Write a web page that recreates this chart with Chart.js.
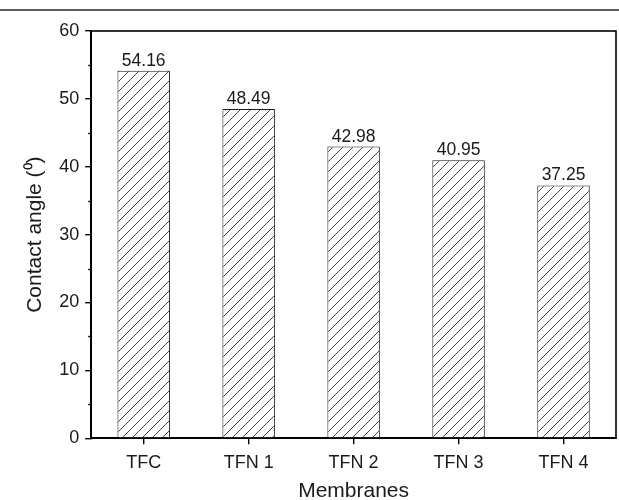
<!DOCTYPE html>
<html>
<head>
<meta charset="utf-8">
<script src="https://cdn.jsdelivr.net/npm/chart.js@4/dist/chart.umd.min.js"></script>
<style>
  html, body { margin: 0; padding: 0; background: #fff; overflow: hidden; }
  #wrap { width: 619px; height: 500px; overflow: hidden; }
</style>
</head>
<body>
<div id="wrap"><canvas id="c" width="619" height="504"></canvas></div>
<script>
const categories = ["TFC", "TFN 1", "TFN 2", "TFN 3", "TFN 4"];
const contactAngle = [54.16, 48.49, 42.98, 40.95, 37.25];
const valueLabels = ["54.16", "48.49", "42.98", "40.95", "37.25"];
const yTicks = [0, 10, 20, 30, 40, 50, 60];

const FONT = "'Liberation Sans', Arial, sans-serif";

function hatch() {
  const s = 10;
  const p = document.createElement('canvas');
  p.width = s; p.height = s;
  const g = p.getContext('2d');
  g.fillStyle = '#fff';
  g.fillRect(0, 0, s, s);
  g.strokeStyle = '#444';
  g.lineWidth = 1;
  g.beginPath();
  g.moveTo(-1, s + 1); g.lineTo(s + 1, -1);
  g.moveTo(-s / 2 - 1, s / 2 + 1); g.lineTo(s / 2 + 1, -s / 2 - 1);
  g.moveTo(s / 2 - 1, s * 1.5 + 1); g.lineTo(s * 1.5 + 1, s / 2 - 1);
  g.stroke();
  return document.getElementById('c').getContext('2d').createPattern(p, 'repeat');
}

const decor = {
  id: 'decor',
  beforeDraw(chart) {
    const ctx = chart.ctx;
    ctx.save();
    ctx.strokeStyle = '#5a5a5a';
    ctx.lineWidth = 2;
    ctx.beginPath();
    ctx.moveTo(0, 10); ctx.lineTo(chart.width, 10);
    ctx.stroke();
    ctx.restore();
  },
  afterDraw(chart) {
    const ctx = chart.ctx;
    const a = chart.chartArea;
    const y = chart.scales.y;
    ctx.save();
    ctx.strokeStyle = '#000';
    ctx.lineWidth = 1.6;
    ctx.strokeRect(a.left, a.top, a.right - a.left, a.bottom - a.top);
    ctx.lineWidth = 1.4;
    for (let v = 5; v < 60; v += 10) {
      const py = Math.round(y.getPixelForValue(v)) + 0.5;
      ctx.beginPath();
      ctx.moveTo(a.left - 3, py); ctx.lineTo(a.left, py);
      ctx.stroke();
    }
    const meta = chart.getDatasetMeta(0);
    ctx.fillStyle = '#1a1a1a';
    ctx.font = "17.5px " + FONT;
    ctx.textAlign = 'center';
    ctx.textBaseline = 'bottom';
    meta.data.forEach((bar, i) => {
      ctx.fillText(valueLabels[i], bar.x, bar.y - 1);
    });
    ctx.restore();
  }
};

new Chart(document.getElementById('c'), {
  type: 'bar',
  data: {
    labels: categories,
    datasets: [{
      data: contactAngle,
      backgroundColor: hatch(),
      borderColor: '#1a1a1a',
      borderWidth: 1,
      barPercentage: 0.5,
      categoryPercentage: 1.0
    }]
  },
  options: {
    responsive: false,
    animation: false,
    devicePixelRatio: 1,
    layout: { padding: { left: 23, right: 3, top: 31, bottom: 0 } },
    plugins: { legend: { display: false }, tooltip: { enabled: false } },
    scales: {
      x: {
        offset: true,
        grid: { offset: false, drawOnChartArea: false, drawTicks: true, tickLength: 6, color: '#000', lineWidth: 1.4 },
        border: { display: true, color: '#000', width: 1.6 },
        ticks: { color: '#1a1a1a', font: { family: FONT, size: 18 }, padding: 8 },
        title: { display: true, text: 'Membranes', color: '#1a1a1a', font: { family: FONT, size: 21 }, padding: { top: -3, bottom: 0 } }
      },
      y: {
        min: 0, max: 60,
        afterBuildTicks(scale) { scale.ticks = yTicks.map(v => ({ value: v })); },
        grid: { drawOnChartArea: false, drawTicks: true, tickLength: 6, color: '#000', lineWidth: 1.4 },
        border: { display: true, color: '#000', width: 1.6 },
        ticks: { color: '#1a1a1a', font: { family: FONT, size: 18 }, padding: 6 },
        title: { display: true, text: 'Contact angle (⁰)', color: '#1a1a1a', font: { family: FONT, size: 21 }, padding: { top: 0, bottom: 5 } }
      }
    }
  },
  plugins: [decor]
});
</script>
</body>
</html>
